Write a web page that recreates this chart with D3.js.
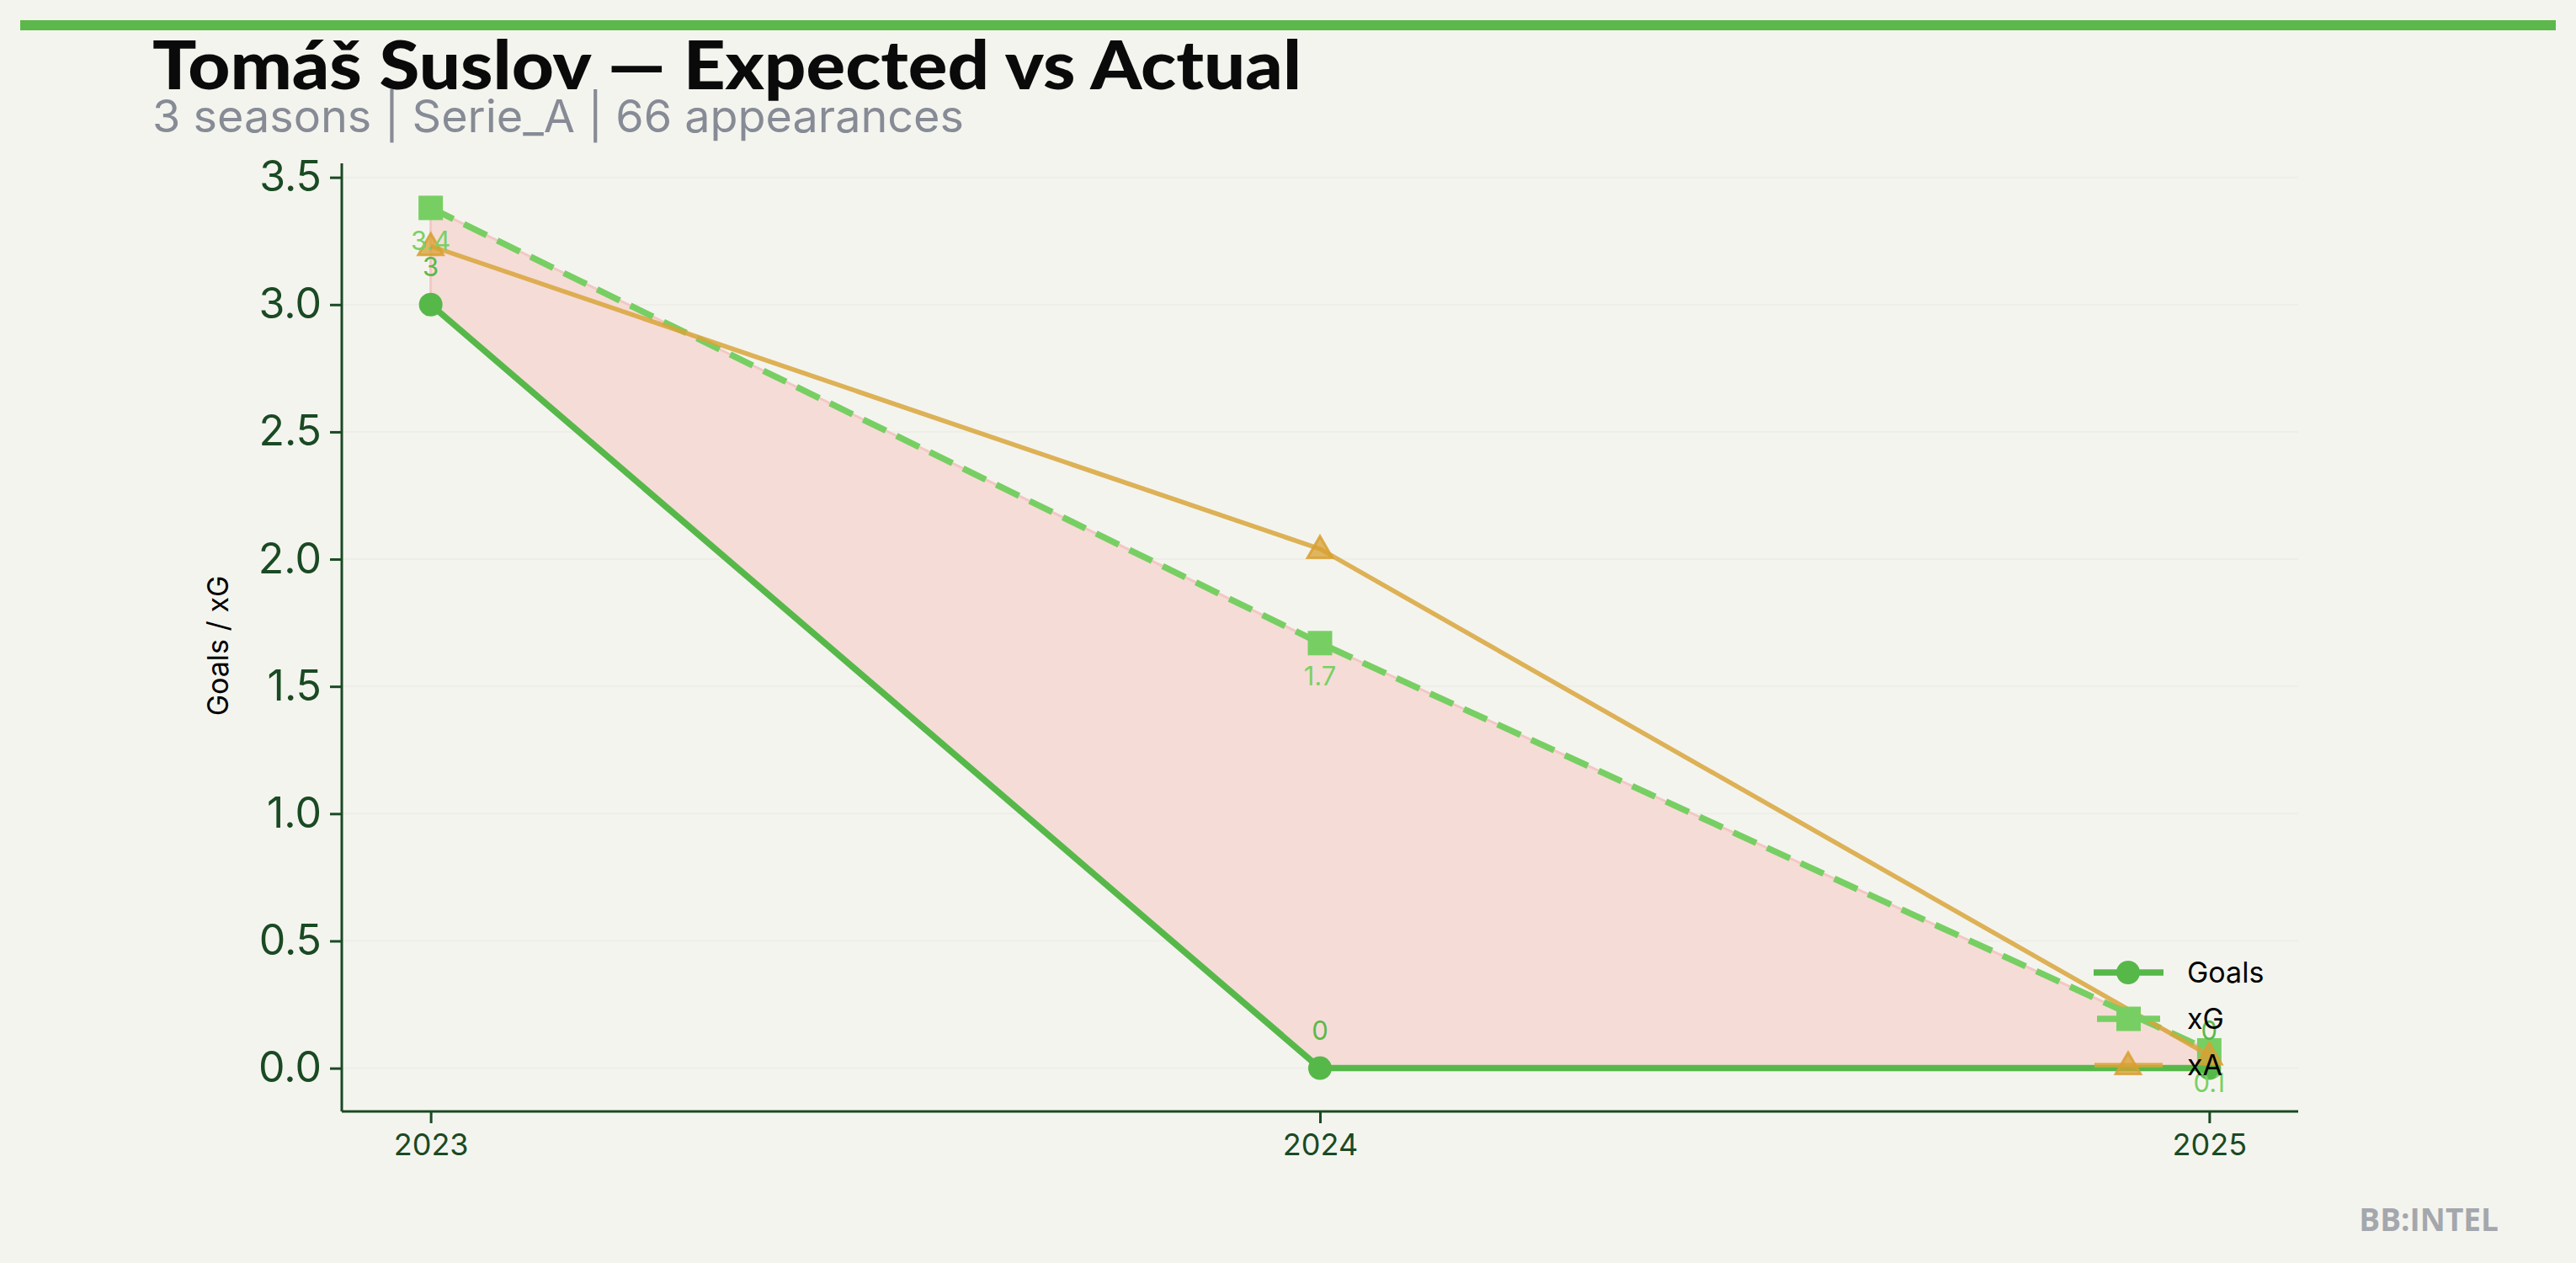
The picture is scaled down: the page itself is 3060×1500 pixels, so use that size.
<!DOCTYPE html>
<html><head><meta charset="utf-8">
<script src="https://cdn.jsdelivr.net/npm/d3@7"></script>
<style>html,body{margin:0;padding:0;background:#f4f4ef;}svg{display:block;}</style>
</head><body>
<svg id="chart" width="3060" height="1500"></svg>
<script>
const seasons = [2023, 2024, 2025];
const goals = [3, 0, 0];
const xG = [3.38, 1.67, 0.07];
const xA = [3.23, 2.04, 0.05];
const goalLabels = ["3", "0", "0"];
const xGLabels = ["3.4", "1.7", "0.1"];
const yTicks = [0, 0.5, 1.0, 1.5, 2.0, 2.5, 3.0, 3.5];
const titleText = "Tomáš Suslov — Expected vs Actual";
const subtitleText = "3 seasons | Serie_A | 66 appearances";
const legendNames = ["Goals", "xG", "xA"];

(function () {
const svg = d3.select("#chart");
const W = 3060, H = 1500;
svg.append("rect").attr("width", W).attr("height", H).attr("fill", "#f4f4ef");

const pL = 406, pR = 2730, pT = 194, pB = 1320;
const x = d3.scaleLinear().domain([2022.9, 2025.1]).range([pL, pR]);
const y = d3.scaleLinear().domain([-0.17, 3.555]).range([pB, pT]);

// top bar
svg.append("rect").attr("x", 24).attr("y", 24).attr("width", 3012).attr("height", 12).attr("fill", "#5cb84a");

// title
svg.append("text").attr("x", 181).attr("y", 106).text(titleText)
  .attr("font-family", "Lato").attr("font-weight", 900).attr("font-size", 80)
  .attr("fill", "#0a0a0a").attr("textLength", 1365).attr("lengthAdjust", "spacingAndGlyphs");
svg.append("text").attr("x", 181).attr("y", 157).text(subtitleText)
  .attr("font-family", "Inter").attr("font-size", 53).attr("fill", "#868b95")
  .attr("textLength", 964).attr("lengthAdjust", "spacingAndGlyphs");

// grid
svg.append("g").selectAll("line").data(yTicks).join("line")
  .attr("x1", pL).attr("x2", pR).attr("y1", d => y(d)).attr("y2", d => y(d))
  .attr("stroke", "#eeeee8").attr("stroke-width", 2);

// fill between goals and xG
const idx = d3.range(seasons.length);
const area = d3.area().x(i => x(seasons[i])).y0(i => y(goals[i])).y1(i => y(xG[i]));
svg.append("path").datum(idx).attr("d", area)
  .attr("fill", "rgb(246,220,215)").attr("stroke", "rgb(242,200,196)").attr("stroke-width", 3);

// axes
const yAxis = d3.axisLeft(y).tickValues(yTicks).tickFormat(d3.format(".1f")).tickSize(14).tickPadding(10);
const gy = svg.append("g").attr("transform", `translate(${pL},0)`).call(yAxis);
gy.select(".domain").attr("stroke", "#1a4a23").attr("stroke-width", 3).attr("d", `M0,${pT}V${pB}`);
gy.selectAll(".tick line").attr("stroke", "#1a4a23").attr("stroke-width", 3);
gy.selectAll(".tick text").attr("font-family", "Inter").attr("font-size", 50).attr("fill", "#1a4a23");

const xAxis = d3.axisBottom(x).tickValues(seasons).tickFormat(d3.format("d")).tickSize(14).tickPadding(12);
const gx = svg.append("g").attr("transform", `translate(0,${pB})`).call(xAxis);
gx.select(".domain").attr("stroke", "#1a4a23").attr("stroke-width", 3).attr("d", `M${pL},0H${pR}`);
gx.selectAll(".tick line").attr("stroke", "#1a4a23").attr("stroke-width", 3);
gx.selectAll(".tick text").attr("font-family", "Inter").attr("font-size", 36).attr("fill", "#1a4a23");

// y label
svg.append("text").attr("transform", `translate(271,${(pT + pB) / 2 + 10}) rotate(-90)`)
  .attr("text-anchor", "middle").text("Goals / xG")
  .attr("font-family", "Inter").attr("font-size", 34).attr("fill", "#000");

const line = vals => d3.line().x(i => x(seasons[i])).y(i => y(vals[i]))(idx);

const cGoals = "#57b84a", cXG = "#77cf63", cXA = "rgba(216,164,58,0.85)";
// goals
svg.append("path").attr("d", line(goals)).attr("fill", "none").attr("stroke", cGoals).attr("stroke-width", 7.5);
svg.append("g").selectAll("circle").data(idx).join("circle")
  .attr("cx", i => x(seasons[i])).attr("cy", i => y(goals[i])).attr("r", 14).attr("fill", cGoals);
// xG
svg.append("path").attr("d", line(xG)).attr("fill", "none").attr("stroke", cXG).attr("stroke-width", 7.5)
  .attr("stroke-dasharray", "30,14");
svg.append("g").selectAll("rect").data(idx).join("rect")
  .attr("x", i => x(seasons[i]) - 14.5).attr("y", i => y(xG[i]) - 14.5).attr("width", 29).attr("height", 29).attr("fill", cXG);
// xA
svg.append("path").attr("d", line(xA)).attr("fill", "none").attr("stroke", cXA).attr("stroke-width", 5.5);
const tri = d3.symbol().type(d3.symbolTriangle).size(380);
svg.append("g").selectAll("path").data(idx).join("path")
  .attr("transform", i => `translate(${x(seasons[i])},${y(xA[i]) + 2})`).attr("d", tri)
  .attr("fill", "rgba(216,160,50,0.75)").attr("stroke", "rgba(216,160,50,0.85)").attr("stroke-width", 3);

// value labels
svg.append("g").selectAll("text").data(idx).join("text")
  .attr("x", i => x(seasons[i])).attr("y", i => y(goals[i]) - 34).attr("text-anchor", "middle")
  .text(i => goalLabels[i]).attr("font-family", "Inter").attr("font-size", 31).attr("fill", "#5cb84a");
svg.append("g").selectAll("text").data(idx).join("text")
  .attr("x", i => x(seasons[i])).attr("y", i => y(xG[i]) + 50).attr("text-anchor", "middle")
  .text(i => xGLabels[i]).attr("font-family", "Inter").attr("font-size", 31).attr("fill", "#7ad066");

// legend
const lg = svg.append("g");
const rows = [1155, 1210, 1265];
legendNames.forEach((n, k) => {
  const yy = rows[k];
  if (k === 0) {
    lg.append("line").attr("x1", 2487).attr("x2", 2570).attr("y1", yy).attr("y2", yy).attr("stroke", cGoals).attr("stroke-width", 7.5);
    lg.append("circle").attr("cx", 2528).attr("cy", yy).attr("r", 14).attr("fill", cGoals);
  } else if (k === 1) {
    lg.append("line").attr("x1", 2491).attr("x2", 2566).attr("y1", yy).attr("y2", yy).attr("stroke", cXG).attr("stroke-width", 7.5);
    lg.append("rect").attr("x", 2514).attr("y", yy - 14.5).attr("width", 29).attr("height", 29).attr("fill", cXG);
  } else {
    lg.append("line").attr("x1", 2488).attr("x2", 2569).attr("y1", yy).attr("y2", yy).attr("stroke", cXA).attr("stroke-width", 5.5);
    lg.append("path").attr("transform", `translate(2528,${yy + 2})`).attr("d", tri)
      .attr("fill", "rgba(216,160,50,0.75)").attr("stroke", "rgba(216,160,50,0.85)").attr("stroke-width", 3);
  }
  lg.append("text").attr("x", 2598).attr("y", yy + 12).text(n)
    .attr("font-family", "Inter").attr("font-size", 34).attr("fill", "#000");
});

// footer
svg.append("text").attr("x", 2968).attr("y", 1462).attr("text-anchor", "end").text("BB:INTEL")
  .attr("font-family", "Open Sans").attr("font-weight", 700).attr("font-size", 37).attr("fill", "#a4a7ac");
})();
</script>
</body></html>
